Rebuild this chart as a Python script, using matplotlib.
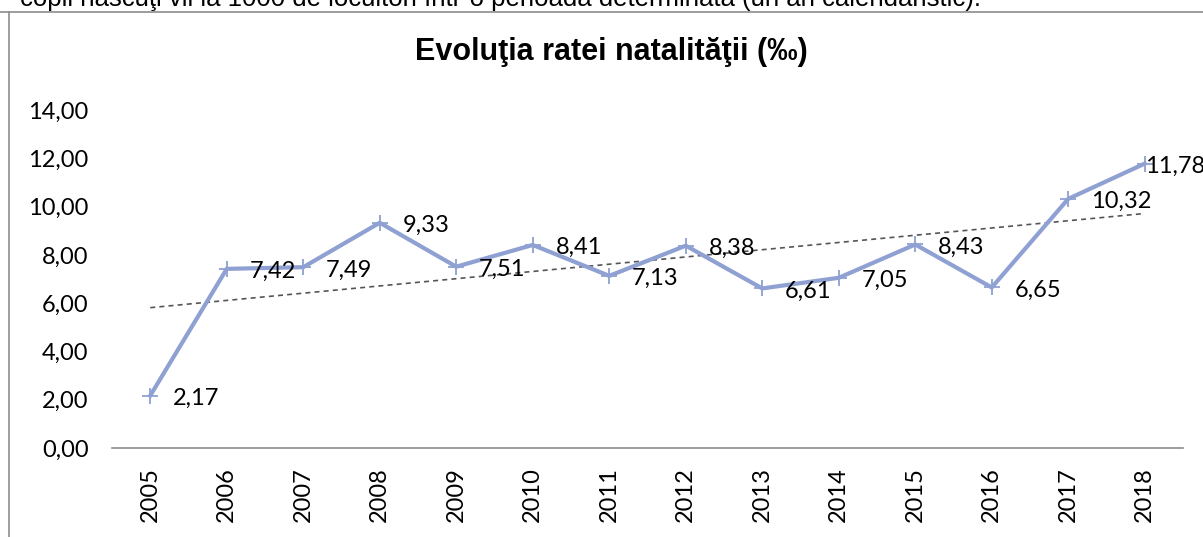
import numpy as np
import matplotlib.pyplot as plt
from matplotlib.lines import Line2D

years = ['2005', '2006', '2007', '2008', '2009', '2010', '2011',
         '2012', '2013', '2014', '2015', '2016', '2017', '2018']
rate = [2.17, 7.42, 7.49, 9.33, 7.51, 8.41, 7.13,
        8.38, 6.61, 7.05, 8.43, 6.65, 10.32, 11.78]
yticks = [0, 2, 4, 6, 8, 10, 12, 14]

W, H = 1203, 537
fig = plt.figure(figsize=(W / 100, H / 100), dpi=100)

# cut-off line of document text above the chart
fig.text(20 / W, 1 - 6 / H,
         'copii născuţi vii la 1000 de locuitori într-o perioadă determinată (un an calendaristic).',
         fontsize=18.5, family='Liberation Sans', va='baseline', ha='left')

# chart frame (only top and left edges visible)
fig.add_artist(Line2D([0, 1], [1 - 12 / H, 1 - 12 / H], transform=fig.transFigure,
                      color='#8c8c8c', lw=1.2))
fig.add_artist(Line2D([9 / W, 9 / W], [0, 1 - 12 / H], transform=fig.transFigure,
                      color='#8c8c8c', lw=1.2))

fig.text(611 / W, 1 - 52 / H, 'Evoluţia ratei natalităţii (‰)',
         fontsize=22, fontweight='bold', family='Liberation Sans',
         ha='center', va='center')

ax = fig.add_axes([112 / W, 89 / H, (1183 - 112) / W, (448 - 110) / H])
x = np.arange(len(years))

ax.plot(x, rate, color='#8fa0d2', lw=3, marker='+', ms=12, mew=1.3,
        solid_joinstyle='round', zorder=3)

# linear trendline
k, b = np.polyfit(x, rate, 1)
ax.plot(x, k * x + b, color='#555555', lw=1.2, ls=(0, (3, 2.5)), zorder=2)

for i, (xi, v) in enumerate(zip(x, rate)):
    dx = 0 if i == len(rate) - 1 else 16.5
    ax.annotate(f'{v:.2f}'.replace('.', ','), (xi, v), xytext=(dx, -2),
                textcoords='offset points', ha='left', va='center',
                fontsize=17, family='Lato', zorder=4)

ax.set_xlim(-0.5, len(years) - 0.5)
ax.set_ylim(0, 14)
ax.set_xticks(x)
ax.set_xticklabels(years, rotation=90, fontsize=17, family='Lato')
ax.set_yticks(yticks)
ax.set_yticklabels([f'{t:.2f}'.replace('.', ',') for t in yticks],
                   fontsize=17, family='Lato')
ax.tick_params(axis='both', length=0)
ax.tick_params(axis='y', pad=17)
ax.tick_params(axis='x', pad=14)
for s in ['top', 'right', 'left']:
    ax.spines[s].set_visible(False)
ax.spines['bottom'].set_color('#8c8c8c')
ax.spines['bottom'].set_linewidth(1.2)
ax.patch.set_alpha(0)

fig.savefig('out.png', dpi=100)
